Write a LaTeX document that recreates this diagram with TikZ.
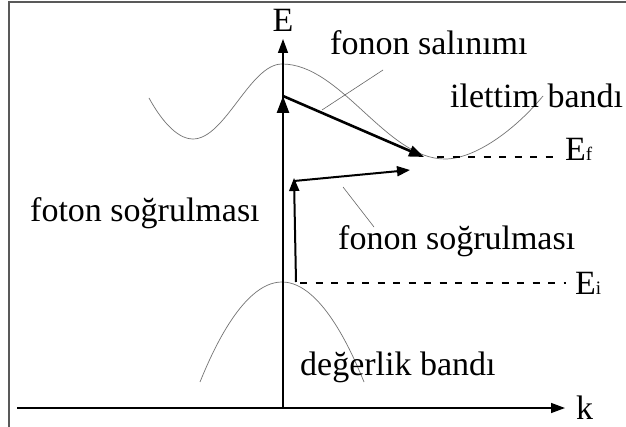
\documentclass[tikz,border=0pt]{standalone}
\usepackage{fontspec}
\setmainfont{Liberation Serif}
\usetikzlibrary{arrows.meta}
\begin{document}
\begin{tikzpicture}[x=1pt,y=-1pt,
  frameline/.style={draw=black!65,line width=1.2pt},
  band/.style={draw=black!55,line width=0.7pt},
  axisline/.style={draw=black,line width=1.5pt,-{Triangle[length=14pt,width=10pt]}},
  bigarrow/.style={draw=black,line width=2.6pt,-{Triangle[length=17pt,width=12pt]}},
  smallarrow/.style={draw=black,line width=2pt,-{Triangle[length=13pt,width=10pt]}},
  pointer/.style={draw=black!60,line width=0.6pt},
  level/.style={draw=black,line width=1.9pt,dash pattern=on 7pt off 8.5pt},
  lbl/.style={inner sep=0pt,font=\fontsize{34}{40}\selectfont},
]
\useasboundingbox (0,0) rectangle (626,427);
\fill[white] (0,0) rectangle (626,427);
\draw[frameline] (9,427) -- (9,2) -- (626,2);

% coordinates
\coordinate (korig) at (17,408);
\coordinate (kend) at (565,408);
\coordinate (ebot) at (283,408);
\coordinate (etop) at (283,39);
\coordinate (vpeak) at (283,282);
\coordinate (cexc) at (283,96);
\coordinate (cmin) at (424,157);
\coordinate (pbot) at (296,282);
\coordinate (ptop) at (294,178);
\coordinate (pstart) at (294,181);
\coordinate (pend) at (410,170);

% bands
\draw[band] (149,98) .. controls (160,118) and (176,139) .. (193,139)
  .. controls (225,139) and (250,64) .. (282,64)
  .. controls (341,64) and (386,159) .. (445,159)
  .. controls (475,159) and (515,130) .. (543,96);
\draw[band] (200,382) parabola bend (282,282) (364,382);

% levels
\draw[level] (437,157) -- (556,157);
\draw[level] (300,283) -- (566,283);

% axes
\draw[axisline] (korig) -- (kend);
\draw[axisline] (ebot) -- (etop);

% transitions
\draw[bigarrow] (vpeak) -- (cexc);
\draw[bigarrow,-{Triangle[length=15pt,width=11pt]}] (cexc) -- (cmin);
\draw[smallarrow] (pbot) -- (ptop);
\draw[smallarrow] (pstart) -- (pend);

% labels
\node[lbl,anchor=base] (E) at (283,32) {E};
\node[lbl,anchor=base west] (k) at (576,419) {k};
\node[lbl,anchor=base west] (Ef) at (565,161) {E{\fontsize{19}{19}\selectfont f}};
\node[lbl,anchor=base west] (Ei) at (575,295) {E{\fontsize{19}{19}\selectfont i}};
\node[lbl,anchor=base west] (emis) at (330,55) {fonon salınımı};
\node[lbl,anchor=base west] (cb) at (450,108) {ilettim bandı};
\node[lbl,anchor=base west] (foton) at (30,222) {foton soğrulması};
\node[lbl,anchor=base west] (abs) at (338,250) {fonon soğrulması};
\node[lbl,anchor=base west] (vb) at (300,375) {değerlik bandı};

% pointers
\coordinate (p1a) at (383,70);
\coordinate (p1b) at (322,110);
\coordinate (p2a) at (343,187);
\coordinate (p2b) at (374,227);
\draw[pointer] (p1a) -- (p1b);
\draw[pointer] (p2a) -- (p2b);
\end{tikzpicture}
\end{document}
